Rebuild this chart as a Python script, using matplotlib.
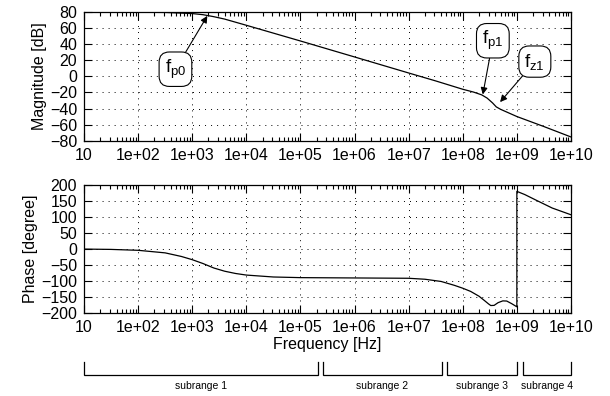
import numpy as np
import matplotlib.pyplot as plt
from matplotlib.ticker import LogLocator, FixedLocator, NullFormatter

plt.rcParams['font.family'] = ['Liberation Sans', 'DejaVu Sans']
plt.rcParams['font.size'] = 11.5

# values
mag_freq = [10, 100, 316, 1000, 1580, 2510, 3980, 1e4, 1e5, 1e6, 1e7, 3.16e7,
            1e8, 1.58e8, 2.24e8, 2.82e8, 3.55e8, 4.17e8, 5.0e8, 1e9, 3.16e9, 1e10]
mag_db = [80.0, 80.0, 79.8, 78.4, 77.0, 74.5, 71.5, 63.8, 44.2, 24.3, 4.3, -5.6,
          -16, -19.5, -23, -27, -33, -38, -41, -50, -62.5, -75.5]

ph_freq = [10, 31.6, 100, 316, 630, 1000, 1580, 2510, 3980, 6300, 1e4, 3.16e4,
           1e5, 1e6, 1e7, 2e7, 4e7, 7e7, 1e8, 1.4e8, 2e8, 2.5e8, 3e8, 3.3e8,
           3.8e8, 4.5e8, 5.5e8, 6.5e8, 8e8, 1e9, 1e9, 1.4e9, 2.3e9, 4.5e9, 1e10]
ph_deg = [0, -1, -3.8, -11.8, -23, -33, -45, -59, -69, -76, -81, -87,
          -89, -90, -91, -94, -101, -113, -122, -132, -147, -160, -171, -176,
          -175.5, -167, -161.5, -162, -170, -180, 180, 170, 152, 128, 107]

decades = [1e1, 1e2, 1e3, 1e4, 1e5, 1e6, 1e7, 1e8, 1e9, 1e10]
dec_labels = ['10', '1e+02', '1e+03', '1e+04', '1e+05', '1e+06', '1e+07',
              '1e+08', '1e+09', '1e+10']

# annotations: label, arrow tip (f, dB), box centre (f, dB)
notes = [('p0', (1.9e3, 75.5), (490, 9)),
         ('p1', (2.35e8, -22.5), (3.6e8, 44.5)),
         ('z1', (4.9e8, -32), (2.15e9, 18.5))]

sub_names = ['subrange 1', 'subrange 2', 'subrange 3', 'subrange 4']
sub_lo = [10, 2.65e5, 5.2e7, 1.3e9]
sub_hi = [2.1e5, 4.1e7, 1e9, 1e10]

fig = plt.figure(figsize=(6.10, 3.96), dpi=100)
ax1 = fig.add_axes([0.1377, 0.645, 0.7983, 0.324])
ax2 = fig.add_axes([0.1377, 0.209, 0.7983, 0.324])


def style(ax, yt):
    ax.set_xscale('log')
    ax.set_xlim(10, 1e10)
    ax.xaxis.set_major_locator(FixedLocator(decades))
    ax.set_xticklabels(dec_labels)
    ax.xaxis.set_minor_locator(LogLocator(base=10, subs=np.arange(2, 10), numticks=20))
    ax.xaxis.set_minor_formatter(NullFormatter())
    ax.set_yticks(yt)
    ax.set_ylim(yt[0], yt[-1])
    ax.tick_params(which='both', direction='in', top=True, right=True, width=0.8)
    ax.tick_params(which='major', length=6, pad=5)
    ax.tick_params(which='minor', length=3.2)
    ax.grid(True, which='major', color='k', linewidth=0.7, linestyle=(0, (1, 5.2)))
    for s in ax.spines.values():
        s.set_linewidth(0.9)


style(ax1, np.arange(-80, 81, 20))
style(ax2, np.arange(-200, 201, 50))

ax1.plot(mag_freq, mag_db, color='k', lw=0.9)
ax2.plot(ph_freq, ph_deg, color='k', lw=0.9)

ax1.set_ylabel('Magnitude [dB]', labelpad=2)
ax2.set_ylabel('Phase [degree]', labelpad=2)
ax2.set_xlabel('Frequency [Hz]', labelpad=1)

for name, tip, box in notes:
    ax1.annotate(r'$\mathregular{f_{%s}}$' % name, xy=tip, xytext=box,
                 ha='center', va='center', fontsize=13.5,
                 bbox=dict(boxstyle='round,pad=0.3,rounding_size=0.55', fc='white', ec='k', lw=0.8),
                 arrowprops=dict(arrowstyle='-|>', color='k', lw=0.8, mutation_scale=10,
                                 shrinkA=0, shrinkB=0))

# subrange brackets under the phase plot
ax3 = fig.add_axes([0.1377, 0.0, 0.7983, 0.1])
ax3.set_xscale('log')
ax3.set_xlim(10, 1e10)
ax3.set_ylim(0, 1)
ax3.axis('off')
for name, lo, hi in zip(sub_names, sub_lo, sub_hi):
    ax3.plot([lo, lo, hi, hi], [0.87, 0.53, 0.53, 0.87], color='k', lw=0.9,
             solid_joinstyle='miter', clip_on=False)
    ax3.text(np.sqrt(lo * hi), 0.24, name, ha='center', va='center', fontsize=7.5)

fig.savefig('out.png', dpi=100)
